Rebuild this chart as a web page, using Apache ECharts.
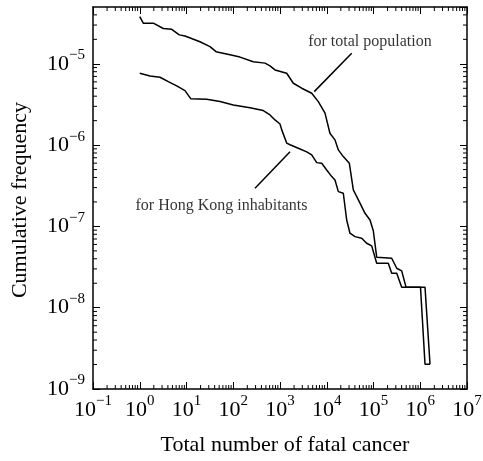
<!DOCTYPE html>
<html>
<head>
<meta charset="utf-8">
<script src="https://cdn.jsdelivr.net/npm/echarts@6/dist/echarts.min.js"></script>
<style>
  html, body { margin: 0; padding: 0; background: #fff; }
  #chart { width: 483px; height: 461px; }
</style>
</head>
<body>
<div id="chart"></div>
<script>
  // for total population
  var popX = [1, 1.19, 1.95, 3.19, 4.83, 7.01, 9.29, 19.4, 31.8, 42.8, 85.2, 139, 268, 478, 611, 782,
    1390, 1930, 2910, 4770, 6600, 9180, 11700, 15000, 17700, 22600, 30400, 37000, 51400, 65800, 84200,
    99000, 117000, 245000, 314000, 401000, 496000, 1264000, 1617000];
  var popY = [3.81e-5, 3.16e-5, 3.16e-5, 2.72e-5, 2.66e-5, 2.27e-5, 2.20e-5, 1.87e-5, 1.63e-5, 1.41e-5,
    1.29e-5, 1.21e-5, 1.06e-5, 1.02e-5, 9.42e-6, 8.41e-6, 7.66e-6, 5.77e-6, 5.01e-6, 4.35e-6, 3.43e-6,
    2.47e-6, 1.40e-6, 1.16e-6, 8.73e-7, 7.22e-7, 5.99e-7, 2.81e-7, 1.93e-7, 1.45e-7, 1.20e-7, 8.85e-8,
    4.18e-8, 4.06e-8, 3.06e-8, 2.84e-8, 1.79e-8, 1.79e-8, 2.02e-9];

  // for Hong Kong inhabitants
  var hkX = [1, 1.66, 2.71, 4.08, 6.17, 9.29, 12.3, 27.0, 52.1, 100, 228, 439, 611, 782, 1000, 1090,
    1390, 1640, 2460, 3730, 4770, 6100, 7800, 9980, 12800, 15000, 17700, 22600, 26700, 31400, 40200,
    55900, 71500, 91500, 117000, 207000, 245000, 314000, 401000, 1012000, 1264000, 1617000];
  var hkY = [7.66e-6, 7.10e-6, 6.84e-6, 6.04e-6, 5.35e-6, 4.68e-6, 3.73e-6, 3.67e-6, 3.43e-6, 3.12e-6,
    2.89e-6, 2.66e-6, 2.35e-6, 2.04e-6, 1.82e-6, 1.54e-6, 1.06e-6, 1.01e-6, 9.16e-7, 8.25e-7, 7.58e-7,
    6.09e-7, 5.99e-7, 4.95e-7, 4.10e-7, 3.73e-7, 2.68e-7, 2.56e-7, 1.20e-7, 8.25e-8, 7.49e-8, 7.16e-8,
    6.21e-8, 5.76e-8, 3.53e-8, 3.53e-8, 2.66e-8, 2.66e-8, 1.79e-8, 1.79e-8, 2.02e-9, 2.02e-9];

  // annotation leaders and labels (data coords)
  var popLeaderX = [34200, 5400];
  var popLeaderY = [1.35e-5, 4.55e-6];
  var hkLeaderX = [1640, 292];
  var hkLeaderY = [8.3e-7, 2.95e-7];
  var popLabelAt = [84000, 1.86e-5];
  var hkLabelAt = [56, 1.79e-7];

  // tick exponents
  var xExps = [-1, 0, 1, 2, 3, 4, 5, 6, 7];
  var yExps = [-9, -8, -7, -6, -5];
  var yMax = 5e-5;

  var FONT = '"Liberation Serif", "DejaVu Serif", serif';

  function zip(xs, ys) {
    return xs.map(function (x, i) { return [x, ys[i]]; });
  }

  function expLabel(v) {
    var l = Math.log10(v);
    var e = Math.round(l);
    if (Math.abs(l - e) > 1e-6) return '';
    var s = e < 0 ? '\u2212' + (-e) : '' + e;
    return '{b|10}{s|' + s + '}';
  }

  var labelRich = {
    b: { fontSize: 22, fontFamily: FONT, color: '#000', lineHeight: 32 },
    s: { fontSize: 15, fontFamily: FONT, color: '#000', lineHeight: 15, verticalAlign: 'top' }
  };

  // minor tick positions 2..9 x 10^k
  var xMinor = [], yMinor = [];
  for (var k = xExps[0]; k < xExps[xExps.length - 1]; k++) {
    for (var m = 2; m <= 9; m++) xMinor.push([m * Math.pow(10, k), 1e-6]);
  }
  for (var k2 = yExps[0]; k2 <= yExps[yExps.length - 1]; k2++) {
    for (var m2 = 2; m2 <= 9; m2++) {
      var v = m2 * Math.pow(10, k2);
      if (v < yMax) yMinor.push([1, v]);
    }
  }

  var tickStyle = { stroke: '#000', lineWidth: 1 };

  function xMinorItem(params, api) {
    var p = api.coord([api.value(0), api.value(1)]);
    var cs = params.coordSys;
    var b = cs.y + cs.height;
    return {
      type: 'group', children: [
        { type: 'line', shape: { x1: p[0], y1: b, x2: p[0], y2: b - 4 }, style: tickStyle },
        { type: 'line', shape: { x1: p[0], y1: cs.y, x2: p[0], y2: cs.y + 4 }, style: tickStyle }
      ]
    };
  }

  function yMinorItem(params, api) {
    var p = api.coord([api.value(0), api.value(1)]);
    var cs = params.coordSys;
    var r = cs.x + cs.width;
    return {
      type: 'group', children: [
        { type: 'line', shape: { x1: cs.x, y1: p[1], x2: cs.x + 4, y2: p[1] }, style: tickStyle },
        { type: 'line', shape: { x1: r, y1: p[1], x2: r - 4, y2: p[1] }, style: tickStyle }
      ]
    };
  }

  var axisLine = { show: true, lineStyle: { color: '#000', width: 1.5 } };
  var majorTick = { show: true, inside: true, length: 7, lineStyle: { color: '#000', width: 1 } };

  function xAx(pos, labels) {
    return {
      type: 'log', logBase: 10, position: pos,
      min: Math.pow(10, xExps[0]), max: Math.pow(10, xExps[xExps.length - 1]),
      splitNumber: 10,
      axisLine: axisLine, axisTick: majorTick, splitLine: { show: false },
      axisLabel: { show: labels, formatter: expLabel, rich: labelRich, margin: 5 }
    };
  }
  function yAx(pos, labels) {
    return {
      type: 'log', logBase: 10, position: pos,
      min: Math.pow(10, yExps[0]), max: yMax,
      splitNumber: 10,
      axisLine: axisLine, axisTick: majorTick, splitLine: { show: false },
      axisLabel: { show: labels, formatter: expLabel, rich: labelRich, margin: 8, showMaxLabel: false }
    };
  }

  var lineStyle = { color: '#000', width: 1.5 };

  var chart = echarts.init(document.getElementById('chart'));
  chart.setOption({
    animation: false,
    backgroundColor: '#fff',
    grid: { left: 93, right: 16, top: 7, bottom: 72, outerBoundsMode: 'none' },
    xAxis: [xAx('bottom', true), xAx('top', false)],
    yAxis: [yAx('left', true), yAx('right', false)],
    graphic: [
      {
        type: 'text', x: 20, y: 200, rotation: Math.PI / 2,
        style: { text: 'Cumulative frequency', font: '22px ' + FONT, fill: '#000',
          textAlign: 'center', textVerticalAlign: 'middle' }
      },
      {
        type: 'text', x: 285, y: 445,
        style: { text: 'Total number of fatal cancer', font: '22px ' + FONT, fill: '#000',
          textAlign: 'center', textVerticalAlign: 'middle' }
      }
    ],
    series: [
      { type: 'line', data: zip(popX, popY), symbol: 'none', lineStyle: lineStyle, silent: true },
      { type: 'line', data: zip(hkX, hkY), symbol: 'none', lineStyle: lineStyle, silent: true },
      { type: 'line', data: zip(popLeaderX, popLeaderY), symbol: 'none', lineStyle: lineStyle, silent: true },
      { type: 'line', data: zip(hkLeaderX, hkLeaderY), symbol: 'none', lineStyle: lineStyle, silent: true },
      {
        type: 'scatter', symbolSize: 0, silent: true,
        data: [
          { value: popLabelAt, label: { formatter: 'for total population' } },
          { value: hkLabelAt, label: { formatter: 'for Hong Kong inhabitants' } }
        ],
        label: { show: true, position: 'inside', color: '#000', fontSize: 16, fontFamily: FONT }
      },
      { type: 'custom', data: xMinor, renderItem: xMinorItem, silent: true },
      { type: 'custom', data: yMinor, renderItem: yMinorItem, silent: true }
    ]
  });
</script>
</body>
</html>
